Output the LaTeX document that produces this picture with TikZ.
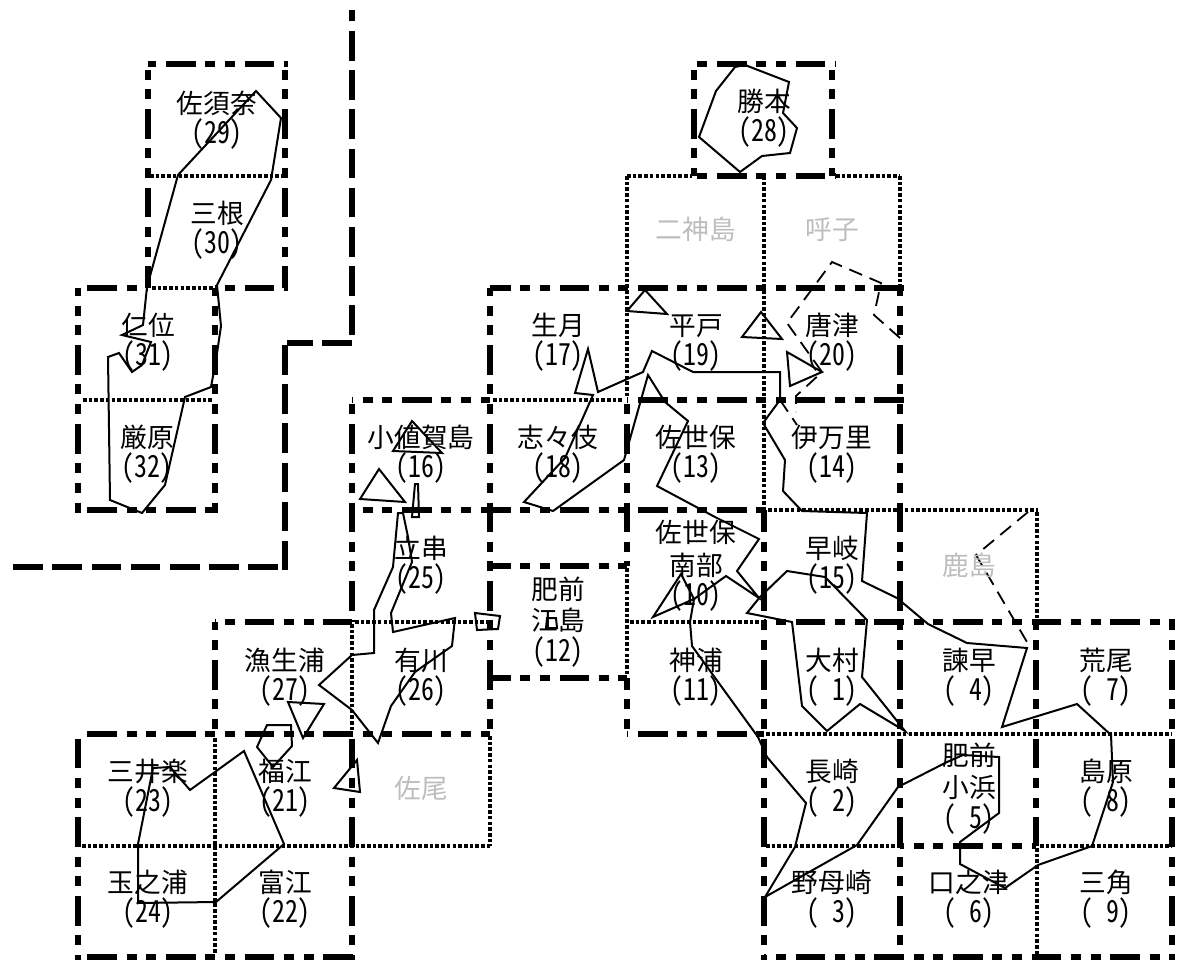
\documentclass[tikz,border=0pt]{standalone}
\usepackage{graphicx}
\usepackage{fontspec}
\setmainfont{Noto Sans CJK JP}[RawFeature=+hwid]
\definecolor{fadedgray}{HTML}{BDBDBD}
\newcommand{\hT}[3]{\pgfmathsetmacro{\ph}{Mod(#2-87.3,78.7)}\draw[thickdd,line width=6pt,dash phase=\ph pt] (#2,#1) -- (#3,#1);}
\newcommand{\vT}[3]{\pgfmathsetmacro{\ph}{Mod(#2-109,78.7)}\draw[thickdd,line width=6.7pt,dash phase=\ph pt] (#1,#2) -- (#1,#3);}
\newcommand{\hD}[3]{\draw[dotline] (#2,#1) -- (#3,#1);}
\newcommand{\vD}[3]{\draw[dotline] (#1,#2) -- (#1,#3);}
\newcommand{\numtxt}[1]{\scalebox{0.97}[1.14]{#1}}
\tikzset{
 x=1pt,y=-1pt,
 thickdd/.style={dash pattern=on 29.7pt off 9.5pt on 10pt off 9.75pt on 10pt off 9.75pt},
 dashonly/.style={line width=6.5pt,dash pattern=on 29.6pt off 9.6pt},
 dotline/.style={line width=4.2pt,dash pattern=on 3.6pt off 2.1pt},
 coast/.style={line width=2pt,line join=miter},
 thinDash/.style={line width=1.8pt,dash pattern=on 14pt off 8pt},
 lab/.style={font=\fontsize{26.7pt}{32pt}\selectfont,inner sep=0pt,align=center,anchor=center,text height=23pt,text depth=3pt},
 num/.style={font=\fontsize{26.7pt}{32pt}\selectfont,inner sep=0pt,anchor=center},
 faded/.style={lab,text=fadedgray},
}
\begin{document}
\begin{tikzpicture}
\useasboundingbox (0,0) rectangle (1177,961);
% ---- thick dash-dot-dot horizontals
\hT{64}{148}{288}\hT{64}{694}{835}
\hT{176}{694}{835}
\hT{288}{78}{148}\hT{288}{215}{288}\hT{288}{490}{904}
\hT{400}{352}{490}\hT{400}{627}{904}
\hT{510}{78}{219}\hT{510}{352}{767}
\hT{566}{490}{627}
\hT{622}{215}{352}\hT{622}{764}{1175}
\hT{678}{490}{627}
\hT{734}{78}{490}\hT{734}{627}{764}
\hT{846}{900}{1036}
\hT{957}{78}{355}\hT{957}{764}{1175}
% ---- thick verticals
\vT{78}{288}{513}\vT{78}{734}{960}
\vT{148}{64}{288}
\vT{215}{288}{513}\vT{215}{622}{734}
\vT{285}{64}{288}
\vT{352}{400}{622}\vT{352}{734}{960}
\vT{490}{288}{734}
\vT{627}{400}{566}\vT{627}{678}{734}
\vT{694}{64}{176}\vT{832}{64}{176}
\vT{764}{510}{960}
\vT{900}{288}{960}
\vT{1036}{622}{846}
\vT{1172}{622}{960}
% ---- dotted
\hD{176}{150}{282}\hD{176}{627}{692}\hD{176}{836}{900}
\hD{288}{152}{213}
\hD{400}{83}{213}\hD{400}{493}{624}
\hD{510}{768}{1038}
\hD{622}{355}{488}\hD{622}{630}{760}
\hD{734}{766}{1172}
\hD{846}{82}{490}\hD{846}{766}{900}\hD{846}{1040}{1172}
\vD{215}{738}{954}
\vD{352}{624}{732}
\vD{490}{736}{846}
\vD{627}{176}{398}\vD{627}{568}{676}
\vD{764}{176}{508}
\vD{900}{176}{286}
\vD{1037}{512}{620}\vD{1037}{848}{955}
% ---- prefecture border
\draw[dashonly] (352,335) -- (352,10);
\draw[dashonly] (287,343) -- (313,343);
\draw[dashonly] (322,343) -- (352,343);
\draw[dashonly,dash phase=0pt] (285,345) -- (285,570);
\draw[dashonly] (278,567) -- (10,567);
% ---- coast lines
\draw[coast] (256,91)--(281,118)--(271,180)--(217,285)--(221,326)--(216,360)--(211,387)--(185,397)--(165,485)--(142,513)--(110,500)--(108,357)--(119,353)--(132,372)--(142,365)--(151,342)--(122,335)--(143,325)--(147,287)--(178,175)--cycle;
\draw[coast] (412,421)--(393,451)--(442,453)--cycle;
\draw[coast] (379,469)--(360,499)--(405,502)--cycle;
\draw[coast] (415,484)--(418,484)--(419,517)--(412,517)--cycle;
\draw[coast] (398,513)--(403,513)--(408,537)--(412,562)--(391,613)--(393,632)--(455,618)--(452,646)--(415,672)--(391,706)--(378,743)--(352,710)--(319,685)--(352,655)--(374,653)--(374,610)--(393,567)--cycle;
\draw[coast] (475,613)--(500,616)--(498,629)--(477,630)--cycle;
\draw[coast] (547,618)--(556,618)--(557,628)--(546,628)--cycle;
\draw[coast] (524,502)--(553,511)--(624,460)--(648,375)--(665,402)--(688,421)--(657,486)--(715,517)--(759,539)--(737,571)--(759,598)--(726,576)--(694,599)--(690,622)--(692,646)--(758,737)--(767,757)--(806,803)--(795,847)--(765,897)--(857,845)--(898,787)--(947,762)--(963,755)--(999,757)--(999,813)--(960,842)--(960,864)--(1005,888)--(1038,865)--(1092,846)--(1113,782)--(1111,735)--(1077,704)--(1002,727)--(1027,648)--(967,643)--(928,624)--(897,598)--(862,581)--(867,513)--(802,511)--(783,491)--(785,460)--(763,423)--(780,400)--(780,372)--(693,372)--(652,351)--(643,372)--(598,392)--(588,349)--(575,393)--(593,395)--(565,458)--cycle;
\draw[coast] (760,597)--(747,613)--(792,622)--(802,706)--(827,731)--(860,704)--(905,731)--(862,677)--(867,620)--(825,577)--(787,571)--cycle;
\draw[coast] (645,290)--(627,311)--(667,314)--cycle;
\draw[coast] (761,312)--(742,337)--(782,339)--cycle;
\draw[coast] (787,352)--(790,386)--(822,372)--cycle;
\draw[coast] (681,574)--(653,617)--(694,599)--cycle;
\draw[coast] (153,768)--(170,767)--(190,790)--(244,751)--(284,844)--(216,902)--(138,903)--(138,844)--cycle;
\draw[coast] (267,725)--(291,725)--(292,746)--(273,767)--(257,747)--cycle;
\draw[coast] (288,702)--(324,704)--(303,738)--cycle;
\draw[coast] (357,760)--(360,792)--(334,788)--cycle;
\draw[coast] (735,67)--(745,65)--(789,82)--(783,113)--(797,128)--(790,153)--(762,156)--(740,172)--(699,137)--(716,91)--cycle;
% ---- dashed outlines
\draw[thinDash] (900,338)--(874,315)--(881,283)--(832,262)--(787,323)--(822,372)--(796,396)--(796,412);
\draw[thinDash] (780,400)--(797,425);
\draw[thinDash] (1028,512)--(976,555)--(1027,642);
% ---- labels
\newcommand{\two}[5]{\node[lab] (#1a) at (#2,#3) {#4}; \node[num] (#1b) at (#2,#3+31.5) {\numtxt{#5}};}
\two{n29}{217}{103}{佐須奈}{(29)}
\two{n30}{217}{213}{三根}{(30)}
\two{n31}{148}{325}{仁位}{(31)}
\two{n32}{147}{437}{厳原}{(32)}
\two{n16}{421}{437}{小値賀島}{(16)}
\two{n18}{558}{437}{志々伎}{(18)}
\two{n25}{421}{548}{立串}{(25)}
\two{n26}{421}{660}{有川}{(26)}
\two{n27}{285}{660}{漁生浦}{(27)}
\two{n23}{148}{771}{三井楽}{(23)}
\two{n21}{285}{771}{福江}{(21)}
\two{n24}{148}{882}{玉之浦}{(24)}
\two{n22}{285}{882}{富江}{(22)}
\two{n17}{558}{325}{生月}{(17)}
\two{n19}{696}{325}{平戸}{(19)}
\two{n20}{832}{325}{唐津}{(20)}
\two{n13}{696}{437}{佐世保}{(13)}
\two{n14}{832}{437}{伊万里}{(14)}
\two{n28}{764}{101}{勝本}{(28)}
\two{n11}{696}{660}{神浦}{(11)}
\two{n15}{832}{548}{早岐}{(15)}
\two{n1}{832}{660}{大村}{(\hspace{.5em}1)}
\two{n4}{969}{660}{諫早}{(\hspace{.5em}4)}
\two{n7}{1106}{660}{荒尾}{(\hspace{.5em}7)}
\two{n2}{832}{771}{長崎}{(\hspace{.5em}2)}
\two{n8}{1106}{771}{島原}{(\hspace{.5em}8)}
\two{n3}{832}{882}{野母崎}{(\hspace{.5em}3)}
\two{n6}{969}{882}{口之津}{(\hspace{.5em}6)}
\two{n9}{1106}{882}{三角}{(\hspace{.5em}9)}
\node[lab] (n10a) at (696,532) {佐世保};
\node[lab] (n10b) at (696,565) {南部};
\node[num] (n10c) at (696,596) {\numtxt{(10)}};
\node[lab] (n12a) at (558,589) {肥前};
\node[lab] (n12b) at (558,620) {江島};
\node[num] (n12c) at (558,652) {\numtxt{(12)}};
\node[lab] (n5a) at (969,755) {肥前};
\node[lab] (n5b) at (969,787) {小浜};
\node[num] (n5c) at (969,819) {\numtxt{(\hspace{.5em}5)}};
\node[faded] (f1) at (696,229) {二神島};
\node[faded] (f2) at (832,229) {呼子};
\node[faded] (f3) at (969,565) {鹿島};
\node[faded] (f4) at (421,788) {佐尾};
\end{tikzpicture}
\end{document}
